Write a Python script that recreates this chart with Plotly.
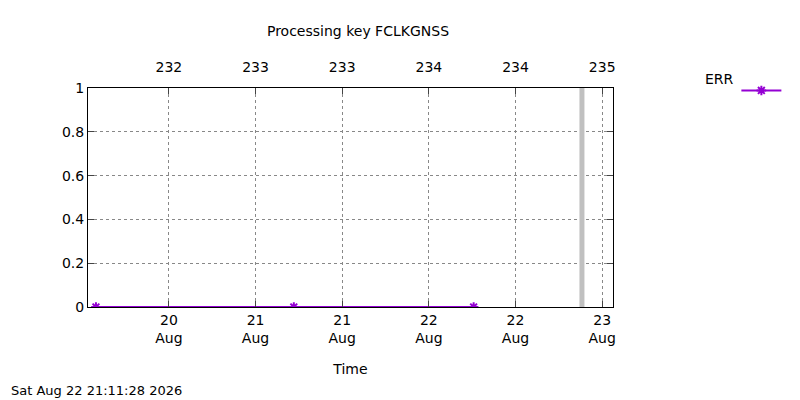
import plotly.graph_objects as go

# hours relative to 20 Aug 00:00
err_x = [-10.1, 17.3, 42.2]
err_y = [0, 0, 0]
gap_x = [57.2]

tick_hours = [0, 12, 24, 36, 48, 60]
bottom_labels = ["20<br>Aug", "21<br>Aug", "21<br>Aug", "22<br>Aug", "22<br>Aug", "23<br>Aug"]
top_labels = ["232", "233", "233", "234", "234", "235"]
y_ticks = [0, 0.2, 0.4, 0.6, 0.8, 1]

x_range = [-11.2, 61.5]
font = dict(family="DejaVu Sans", size=14, color="black")

fig = go.Figure()
fig.add_trace(go.Scatter(x=[gap_x[0], gap_x[0]], y=[0, 1], mode="lines",
                         line=dict(color="#c0c0c0", width=5), showlegend=False, hoverinfo="skip"))
fig.add_trace(go.Scatter(x=err_x, y=err_y, mode="lines+markers", name=" ",
                         line=dict(color="#9400d3", width=2),
                         marker=dict(symbol="asterisk-open", size=8, line=dict(color="#9400d3", width=2))))
fig.add_trace(go.Scatter(x=[None], y=[None], xaxis="x2", showlegend=False))

fig.update_layout(
    width=800, height=400, plot_bgcolor="white", paper_bgcolor="white", font=font,
    margin=dict(l=80, r=195, t=80, b=101),
    title=dict(text="Processing key FCLKGNSS", x=0.4375, y=0.955, xanchor="center", font=font),
    xaxis=dict(range=x_range, tickvals=tick_hours, ticktext=bottom_labels, showgrid=True,
               gridcolor="#888", griddash="dot", ticks="inside", ticklen=6, showline=True,
               linecolor="black", mirror=True, zeroline=False,
               title=dict(text="Time", standoff=19, font=dict(size=14))),
    xaxis2=dict(range=x_range, tickvals=tick_hours, ticktext=top_labels, overlaying="x",
                side="top", showgrid=False, ticks="inside", ticklen=6, zeroline=False,
                ticklabelstandoff=12),
    yaxis=dict(range=[0, 1], tickvals=y_ticks, ticktext=["0", "0.2", "0.4", "0.6", "0.8", "1"],
               showgrid=True, gridcolor="#888", griddash="dot", ticks="inside", ticklen=6,
               showline=True, linecolor="black", mirror="ticks", zeroline=False),
    legend=dict(x=1.235, y=1.06, xanchor="left", yanchor="top", bgcolor="rgba(0,0,0,0)",
                itemwidth=40),
    annotations=[
        dict(text="Sat Aug 22 21:11:28 2026", xref="paper", yref="paper",
             x=-0.15, y=-0.38, xanchor="left", yanchor="middle", showarrow=False,
             font=dict(family="DejaVu Sans", size=13)),
        dict(text="ERR", xref="paper", yref="paper", x=1.235, y=1.04,
             xanchor="right", yanchor="middle", showarrow=False, font=font),
    ],
)

fig.write_html("out.html")
